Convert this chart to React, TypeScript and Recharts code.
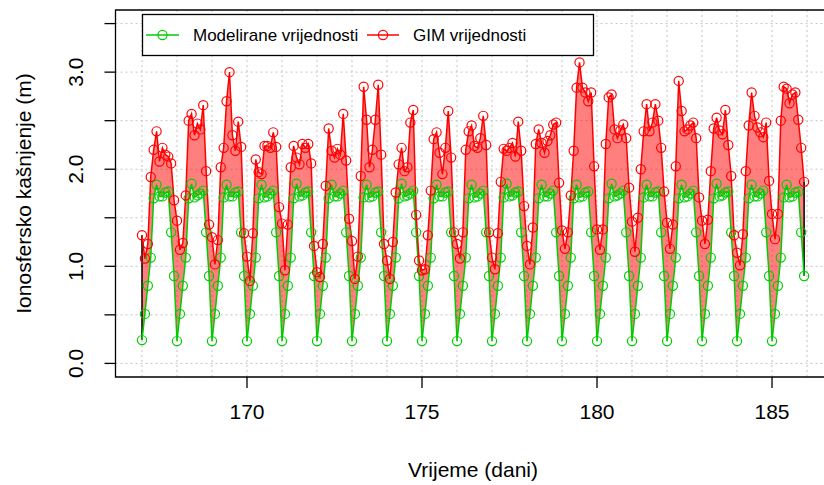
import {
  ComposedChart,
  Area,
  Line,
  XAxis,
  YAxis,
  CartesianGrid,
  ReferenceArea,
  ReferenceLine,
  Label,
} from "recharts";

const FONT = "'Liberation Sans', Arial, sans-serif";
const GREEN = "#00cd00";
const RED = "#ff0000";

// days of year and 2-hourly samples
const DAYS = [167, 168, 169, 170, 171, 172, 173, 174, 175, 176, 177, 178, 179, 180, 181, 182, 183, 184, 185];
const HOURS = [0, 2, 4, 6, 8, 10, 12, 14, 16, 18, 20, 22];

// modelirane vrijednosti (m), one row per day
const MODEL_BY_DAY = [
  [0.24, 0.51, 0.80, 1.09, 1.70, 1.84, 1.72, 1.72, 1.76, 1.77, 1.35, 0.90],
  [0.23, 0.51, 0.80, 1.09, 1.70, 1.85, 1.71, 1.73, 1.75, 1.78, 1.35, 0.90],
  [0.23, 0.51, 0.80, 1.09, 1.71, 1.84, 1.72, 1.72, 1.76, 1.77, 1.35, 0.90],
  [0.23, 0.51, 0.80, 1.09, 1.70, 1.84, 1.71, 1.72, 1.75, 1.78, 1.35, 0.90],
  [0.23, 0.51, 0.80, 1.09, 1.70, 1.85, 1.72, 1.73, 1.76, 1.77, 1.35, 0.90],
  [0.23, 0.51, 0.80, 1.09, 1.70, 1.84, 1.72, 1.72, 1.75, 1.78, 1.35, 0.90],
  [0.23, 0.51, 0.80, 1.09, 1.71, 1.84, 1.71, 1.72, 1.76, 1.77, 1.35, 0.90],
  [0.23, 0.51, 0.80, 1.09, 1.70, 1.85, 1.72, 1.73, 1.75, 1.78, 1.35, 0.90],
  [0.23, 0.51, 0.80, 1.09, 1.70, 1.84, 1.72, 1.72, 1.76, 1.77, 1.35, 0.90],
  [0.23, 0.51, 0.80, 1.09, 1.70, 1.84, 1.71, 1.72, 1.75, 1.78, 1.35, 0.90],
  [0.23, 0.51, 0.80, 1.09, 1.71, 1.85, 1.72, 1.73, 1.76, 1.77, 1.35, 0.90],
  [0.23, 0.51, 0.80, 1.09, 1.70, 1.84, 1.72, 1.72, 1.75, 1.78, 1.35, 0.90],
  [0.23, 0.51, 0.80, 1.09, 1.70, 1.84, 1.71, 1.72, 1.76, 1.77, 1.35, 0.90],
  [0.23, 0.51, 0.80, 1.09, 1.70, 1.85, 1.72, 1.73, 1.75, 1.78, 1.35, 0.90],
  [0.23, 0.51, 0.80, 1.09, 1.71, 1.84, 1.72, 1.72, 1.76, 1.77, 1.35, 0.90],
  [0.23, 0.51, 0.80, 1.09, 1.70, 1.84, 1.71, 1.72, 1.75, 1.78, 1.35, 0.90],
  [0.23, 0.51, 0.80, 1.09, 1.70, 1.85, 1.72, 1.73, 1.76, 1.77, 1.35, 0.90],
  [0.23, 0.51, 0.80, 1.09, 1.70, 1.84, 1.72, 1.72, 1.75, 1.78, 1.35, 0.90],
  [0.23, 0.51, 0.80, 1.09, 1.71, 1.84, 1.71, 1.72, 1.76, 1.77, 1.35, 0.90],
];

// GIM vrijednosti (m), one row per day
const GIM_BY_DAY = [
  [1.32, 1.08, 1.23, 1.92, 2.20, 2.39, 2.08, 2.22, 2.15, 2.13, 2.06, 1.68],
  [1.47, 1.17, 1.24, 1.73, 2.50, 2.57, 2.35, 2.47, 2.41, 2.66, 1.98, 1.43],
  [1.30, 1.02, 1.27, 2.02, 2.22, 2.70, 3.00, 2.35, 2.19, 2.49, 2.23, 1.34],
  [1.10, 0.85, 1.34, 2.10, 1.97, 1.95, 2.24, 2.24, 2.22, 2.38, 2.23, 1.61],
  [1.44, 0.96, 1.43, 2.02, 2.24, 2.12, 2.05, 2.26, 2.22, 2.26, 2.06, 1.21],
  [0.94, 0.89, 1.23, 1.83, 2.42, 2.19, 2.12, 2.21, 2.15, 2.57, 2.09, 1.49],
  [1.26, 0.87, 1.10, 1.93, 2.85, 2.51, 2.02, 2.20, 2.51, 2.87, 2.15, 1.23],
  [1.06, 0.87, 1.25, 1.76, 2.05, 2.22, 1.98, 2.02, 2.48, 2.61, 1.53, 1.06],
  [0.96, 0.97, 1.32, 1.78, 2.31, 2.38, 2.17, 1.95, 2.22, 2.60, 2.12, 1.35],
  [1.23, 1.08, 1.35, 2.20, 2.39, 2.45, 2.24, 2.22, 2.32, 2.55, 2.25, 1.35],
  [1.09, 0.97, 1.34, 1.87, 2.21, 2.19, 2.22, 2.27, 2.13, 2.49, 2.19, 1.62],
  [1.21, 1.02, 1.40, 2.26, 2.41, 2.27, 2.17, 2.29, 2.35, 2.46, 2.48, 1.86],
  [1.37, 1.18, 1.35, 1.73, 2.19, 2.84, 3.10, 2.84, 2.79, 2.70, 2.79, 2.03],
  [1.38, 1.17, 1.38, 2.26, 2.74, 2.77, 2.41, 2.32, 2.40, 2.46, 2.32, 1.81],
  [1.46, 1.15, 1.50, 2.00, 2.39, 2.67, 2.39, 2.48, 2.67, 2.50, 2.22, 1.77],
  [1.45, 1.18, 1.43, 2.03, 2.91, 2.60, 2.39, 2.41, 2.45, 2.48, 2.32, 1.71],
  [1.47, 1.23, 1.48, 1.98, 2.42, 2.53, 2.40, 2.36, 2.61, 2.25, 1.93, 1.32],
  [1.14, 1.01, 1.33, 1.98, 2.45, 2.79, 2.55, 2.43, 2.38, 2.33, 2.48, 1.88],
  [1.54, 1.28, 1.54, 2.50, 2.85, 2.83, 2.68, 2.77, 2.79, 2.51, 2.22, 1.87],
];

const X_TICKS = [170, 175, 180, 185];
const Y_TICKS = [0, 0.5, 1, 1.5, 2, 2.5, 3, 3.5];
const Y_LIMITS = [0, 3.5];
const GRID_DAYS = [167, 168, 169, 170, 171, 172, 173, 174, 175, 176, 177, 178, 179, 180, 181, 182, 183, 184, 185, 186];

const data = DAYS.flatMap((day, i) =>
  HOURS.map((h, j) => ({
    t: day + h / 24,
    model: MODEL_BY_DAY[i][j],
    gim: GIM_BY_DAY[i][j],
    band: [MODEL_BY_DAY[i][j], GIM_BY_DAY[i][j]],
  }))
);

// R style 4% padding on both axes
const first = data[0];
const last = data[data.length - 1];
const xPad = (last.t - first.t) * 0.04;
const X_DOMAIN: [number, number] = [first.t - xPad, last.t + xPad];
const yPad = (Y_LIMITS[1] - Y_LIMITS[0]) * 0.04;
const Y_DOMAIN: [number, number] = [Y_LIMITS[0] - yPad, Y_LIMITS[1] + yPad];

const openDot = (color: string) => (p: any) => (
  <circle
    key={`${color}-${p.index}`}
    cx={p.cx}
    cy={p.cy}
    r={4.6}
    fill="none"
    stroke={color}
    strokeWidth={1.2}
  />
);

function XTick(props: any) {
  const { x, y, payload } = props;
  return (
    <text x={x} y={y + 29} textAnchor="middle" fontSize={21} fontFamily={FONT} fill="#000">
      {payload.value}
    </text>
  );
}

function YTick(props: any) {
  const { x, y, payload } = props;
  if (!Number.isInteger(payload.value)) return <g />;
  return (
    <text
      transform={`translate(${x - 20}, ${y}) rotate(-90)`}
      textAnchor="middle"
      fontSize={21}
      fontFamily={FONT}
      fill="#000"
    >
      {payload.value.toFixed(1)}
    </text>
  );
}

function Legendbox() {
  return (
    <svg
      width={452}
      height={42}
      style={{ position: "absolute", left: 141.5, top: 13.5, overflow: "visible" }}
    >
      <rect x={0.5} y={0.5} width={451} height={41} fill="#fff" stroke="#000" strokeWidth={1.3} />
      <line x1={4} y1={21} x2={37} y2={21} stroke={GREEN} strokeWidth={1.5} />
      <circle cx={20.5} cy={21} r={4.6} fill="none" stroke={GREEN} strokeWidth={1.2} />
      <text x={51} y={27} fontSize={17} fontFamily={FONT} fill="#000">
        Modelirane vrijednosti
      </text>
      <line x1={225} y1={21} x2={257} y2={21} stroke={RED} strokeWidth={1.5} />
      <circle cx={241} cy={21} r={4.6} fill="none" stroke={RED} strokeWidth={1.2} />
      <text x={271} y={27} fontSize={17} fontFamily={FONT} fill="#000">
        GIM vrijednosti
      </text>
    </svg>
  );
}

export default function App() {
  return (
    <div
      style={{
        position: "absolute",
        left: 0,
        top: 0,
        width: 824,
        height: 485,
        overflow: "hidden",
        background: "#fff",
      }}
    >
      <ComposedChart
        width={840}
        height={485}
        data={data}
        margin={{ top: 10, right: 9.4, bottom: 48, left: 0 }}
      >
        <CartesianGrid
          stroke="#c4c4c4"
          strokeDasharray="2 3"
          verticalValues={GRID_DAYS}
          horizontalValues={Y_TICKS}
        />
        <XAxis
          type="number"
          dataKey="t"
          domain={X_DOMAIN}
          allowDataOverflow
          ticks={X_TICKS}
          axisLine={false}
          tickSize={11}
          tickLine={{ stroke: "#000", strokeWidth: 1.3 }}
          tick={<XTick />}
          height={60}
        >
          <Label
            content={(p: any) => (
              <text
                x={p.viewBox.x + p.viewBox.width / 2}
                y={p.viewBox.y + 100}
                textAnchor="middle"
                fontSize={21}
                fontFamily={FONT}
                fill="#000"
              >
                Vrijeme (dani)
              </text>
            )}
          />
        </XAxis>
        <YAxis
          type="number"
          domain={Y_DOMAIN}
          allowDataOverflow
          ticks={Y_TICKS}
          axisLine={false}
          tickSize={11}
          tickLine={{ stroke: "#000", strokeWidth: 1.3 }}
          tick={<YTick />}
          width={115.5}
        >
          <Label
            content={(p: any) => (
              <text
                transform={`translate(31, ${p.viewBox.y + p.viewBox.height / 2}) rotate(-90)`}
                textAnchor="middle"
                fontSize={21}
                fontFamily={FONT}
                fill="#000"
              >
                Ionosfersko kašnjenje (m)
              </text>
            )}
          />
        </YAxis>
        <Area
          type="linear"
          dataKey="band"
          stroke="none"
          fill={RED}
          fillOpacity={0.5}
          isAnimationActive={false}
        />
        <ReferenceLine
          segment={[
            { x: first.t, y: first.model },
            { x: first.t, y: first.gim },
          ]}
          stroke="#000"
          strokeWidth={1.5}
        />
        <ReferenceLine
          segment={[
            { x: last.t, y: last.model },
            { x: last.t, y: last.gim },
          ]}
          stroke="#000"
          strokeWidth={1.5}
        />
        <Line
          type="linear"
          dataKey="model"
          stroke={GREEN}
          strokeWidth={1.5}
          dot={openDot(GREEN)}
          isAnimationActive={false}
        />
        <Line
          type="linear"
          dataKey="gim"
          stroke={RED}
          strokeWidth={1.5}
          dot={openDot(RED)}
          isAnimationActive={false}
        />
        <ReferenceArea
          x1={X_DOMAIN[0]}
          x2={X_DOMAIN[1]}
          y1={Y_DOMAIN[0]}
          y2={Y_DOMAIN[1]}
          fill="none"
          stroke="#000"
          strokeWidth={1.3}
          ifOverflow="visible"
        />
      </ComposedChart>
      <Legendbox />
    </div>
  );
}
